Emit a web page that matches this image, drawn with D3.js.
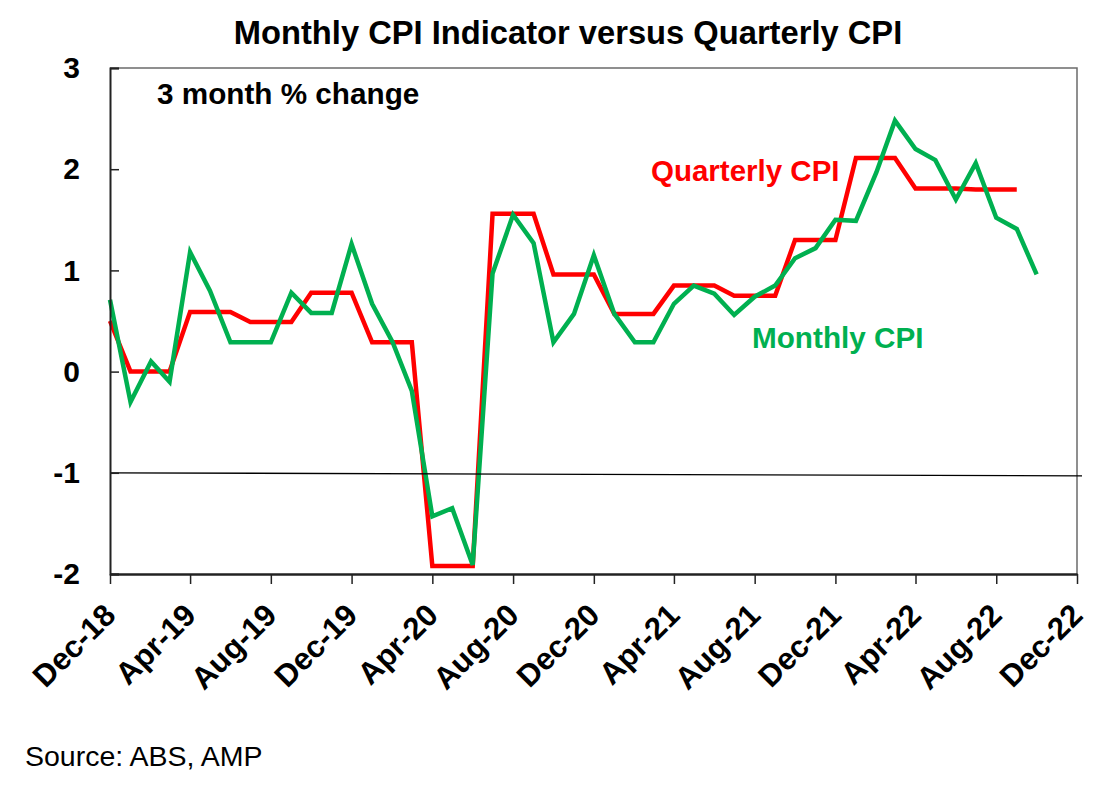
<!DOCTYPE html>
<html><head><meta charset="utf-8">
<script src="https://cdn.jsdelivr.net/npm/d3@7"></script>
<style>body{margin:0;background:#fff} svg{display:block;font-family:"Liberation Sans",Arial,sans-serif}</style>
</head><body>
<svg id="c" width="1107" height="790"></svg>
<script>
// ---- data ----
const firstMonth = "Dec-18";
const monthlyCPI = [
  0.71, -0.30, 0.10, -0.10, 1.18, 0.80, 0.29, 0.29, 0.29, 0.78, 0.58, 0.58, 1.26,
  0.67, 0.29, -0.19, -1.43, -1.35, -1.91, 0.97, 1.55, 1.27, 0.29, 0.57, 1.15,
  0.57, 0.29, 0.29, 0.67, 0.85, 0.77, 0.56, 0.74, 0.85, 1.12, 1.22, 1.50,
  1.49, 1.97, 2.48, 2.20, 2.09, 1.70, 2.06, 1.52, 1.41, 0.96
];
const quarterlyCPI = [
  0.50,
  0.00, 0.00, 0.00, 0.59, 0.59, 0.59, 0.49, 0.49, 0.49, 0.78, 0.78, 0.78,
  0.29, 0.29, 0.29, -1.92, -1.92, -1.92, 1.56, 1.56, 1.56, 0.96, 0.96, 0.96,
  0.57, 0.57, 0.57, 0.85, 0.85, 0.85, 0.75, 0.75, 0.75, 1.30, 1.30, 1.30,
  2.11, 2.11, 2.11, 1.81, 1.81, 1.81, 1.80, 1.80, 1.80
];
const yTicks = [-2, -1, 0, 1, 2, 3];
const xTickLabels = ["Dec-18","Apr-19","Aug-19","Dec-19","Apr-20","Aug-20","Dec-20",
                     "Apr-21","Aug-21","Dec-21","Apr-22","Aug-22","Dec-22"];
const refLineValue = -1;
const titleText = "Monthly CPI Indicator versus Quarterly CPI";
const subtitleText = "3 month % change";
const sourceText = "Source: ABS, AMP";

// ---- setup ----
const parse = d3.timeParse("%b-%y");
const fmt = d3.timeFormat("%b-%y");
const start = parse(firstMonth);
const dateAt = i => d3.timeMonth.offset(start, i);

const L = 110, R = 1077, T = 68, B = 574;
const x = d3.scaleTime().domain([parse(xTickLabels[0]), parse(xTickLabels[xTickLabels.length-1])]).range([L, R]);
const y = d3.scaleLinear().domain([-2, 3]).range([B, T]);

const svg = d3.select("#c");

// frame (top & right)
svg.append("path")
  .attr("d", `M${L},${T}H${R}V${B}`)
  .attr("fill", "none").attr("stroke", "#6b6b6b").attr("stroke-width", 1.5);

// lines
const line = d3.line().x((d, i) => x(dateAt(i))).y(d => y(d));
svg.append("path").datum(quarterlyCPI)
  .attr("d", line).attr("fill", "none").attr("stroke", "#ff0000")
  .attr("stroke-width", 4.5).attr("stroke-linejoin", "miter");
svg.append("path").datum(monthlyCPI)
  .attr("d", line).attr("fill", "none").attr("stroke", "#00b050")
  .attr("stroke-width", 4.5).attr("stroke-linejoin", "miter");

// reference line at -1
svg.append("line")
  .attr("x1", L).attr("x2", R + 5)
  .attr("y1", y(refLineValue)).attr("y2", y(refLineValue) + 3)
  .attr("stroke", "#000").attr("stroke-width", 1.3);

// y axis
const yAxis = svg.append("g").attr("transform", `translate(${L},0)`)
  .call(d3.axisLeft(y).tickValues(yTicks).tickSize(-9).tickPadding(30).tickFormat(d => String(d)));
yAxis.select(".domain").attr("stroke", "#222").attr("stroke-width", 2);
yAxis.selectAll(".tick line").attr("stroke", "#222").attr("stroke-width", 1.5);
yAxis.selectAll(".tick text").attr("font-family", "Liberation Sans, Arial, sans-serif")
  .attr("font-size", 30).attr("font-weight", "bold").attr("fill", "#000");

// x axis
const xAxis = svg.append("g").attr("transform", `translate(0,${B})`)
  .call(d3.axisBottom(x).tickValues(xTickLabels.map(parse)).tickSize(10).tickSizeOuter(0).tickFormat(fmt));
xAxis.select(".domain").attr("stroke", "#222").attr("stroke-width", 2.5);
xAxis.selectAll(".tick line").attr("stroke", "#222").attr("stroke-width", 1.5);
xAxis.selectAll(".tick text")
  .attr("font-family", "Liberation Sans, Arial, sans-serif")
  .attr("font-size", 31).attr("font-weight", "bold").attr("fill", "#000")
  .attr("text-anchor", "end").attr("dy", null).attr("y", 0)
  .attr("transform", "translate(7,43) rotate(-45)");

// texts
svg.append("text").attr("x", 568).attr("y", 44).attr("text-anchor", "middle")
  .attr("font-size", 32.7).attr("font-weight", "bold").attr("fill", "#000").text(titleText);
svg.append("text").attr("x", 157).attr("y", 104)
  .attr("font-size", 29.7).attr("font-weight", "bold").attr("fill", "#000").text(subtitleText);
svg.append("text").attr("x", 651).attr("y", 181)
  .attr("font-size", 29.5).attr("font-weight", "bold").attr("fill", "#ff0000").text("Quarterly CPI");
svg.append("text").attr("x", 752).attr("y", 348)
  .attr("font-size", 29.7).attr("font-weight", "bold").attr("fill", "#00b050").text("Monthly CPI");
svg.append("text").attr("x", 25).attr("y", 766)
  .attr("font-size", 28.5).attr("fill", "#000").text(sourceText);
</script>
</body></html>
